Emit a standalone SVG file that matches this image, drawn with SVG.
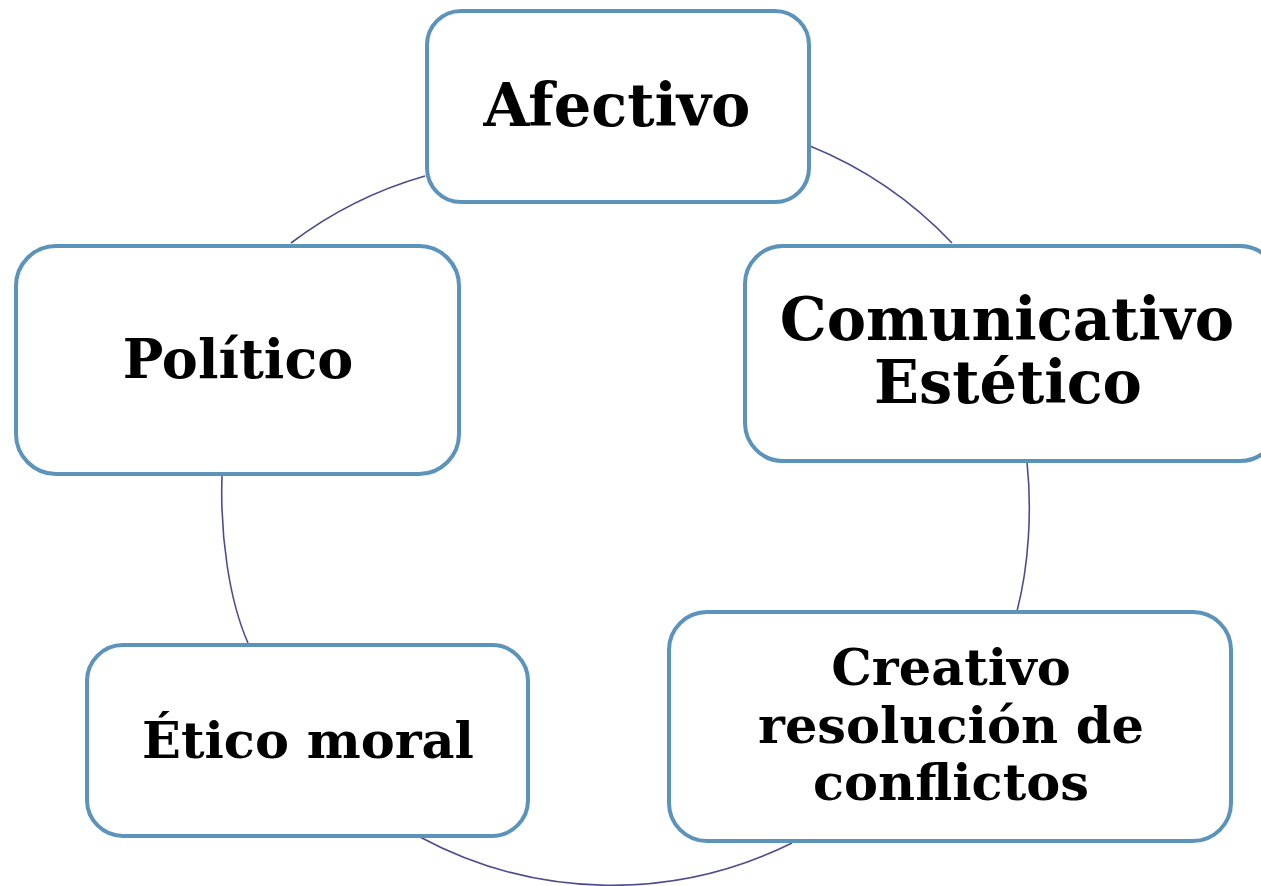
<svg xmlns="http://www.w3.org/2000/svg" width="1261" height="886" viewBox="0 0 1261 886">
<style>
.box{fill:#ffffff;stroke:#5b93ba;stroke-width:4}
.con{fill:none;stroke:#4f4c8e;stroke-width:1.6}
.lbl{font-family:"DejaVu Serif","Liberation Serif",serif;font-weight:bold;fill:#000000;text-anchor:middle}
</style>
<rect width="1261" height="886" fill="#ffffff"/>
<g id="connectors">
<path class="con" d="M425,176 A405,405 0 0,0 291,243"/>
<path class="con" d="M222,476 C220,535 229,600 248,643"/>
<path class="con" d="M420,837 A405,405 0 0,0 792,843"/>
<path class="con" d="M1017,611 C1029,565 1032,510 1027,462"/>
<path class="con" d="M952,243 A405,405 0 0,0 810,146"/>
</g>
<g id="afectivo">
<rect class="box" x="427" y="11" width="382" height="191" rx="34"/>
<text class="lbl" x="617" y="126" font-size="59">Afectivo</text>
</g>
<g id="comunicativo">
<rect class="box" x="745" y="246" width="533" height="215" rx="38"/>
<text class="lbl" x="1007" y="340" font-size="59">Comunicativo</text>
<text class="lbl" x="1008" y="403" font-size="59">Estético</text>
</g>
<g id="creativo">
<rect class="box" x="669" y="612" width="562" height="229" rx="38"/>
<text class="lbl" x="951" y="685" font-size="51">Creativo</text>
<text class="lbl" x="951" y="743" font-size="51">resolución de</text>
<text class="lbl" x="951" y="800" font-size="51">conflictos</text>
</g>
<g id="etico">
<rect class="box" x="87" y="645" width="441" height="191" rx="36"/>
<text class="lbl" x="308" y="758" font-size="51">Ético moral</text>
</g>
<g id="politico">
<rect class="box" x="16" y="246" width="443" height="228" rx="40"/>
<text class="lbl" x="238" y="378" font-size="54">Político</text>
</g>
</svg>
